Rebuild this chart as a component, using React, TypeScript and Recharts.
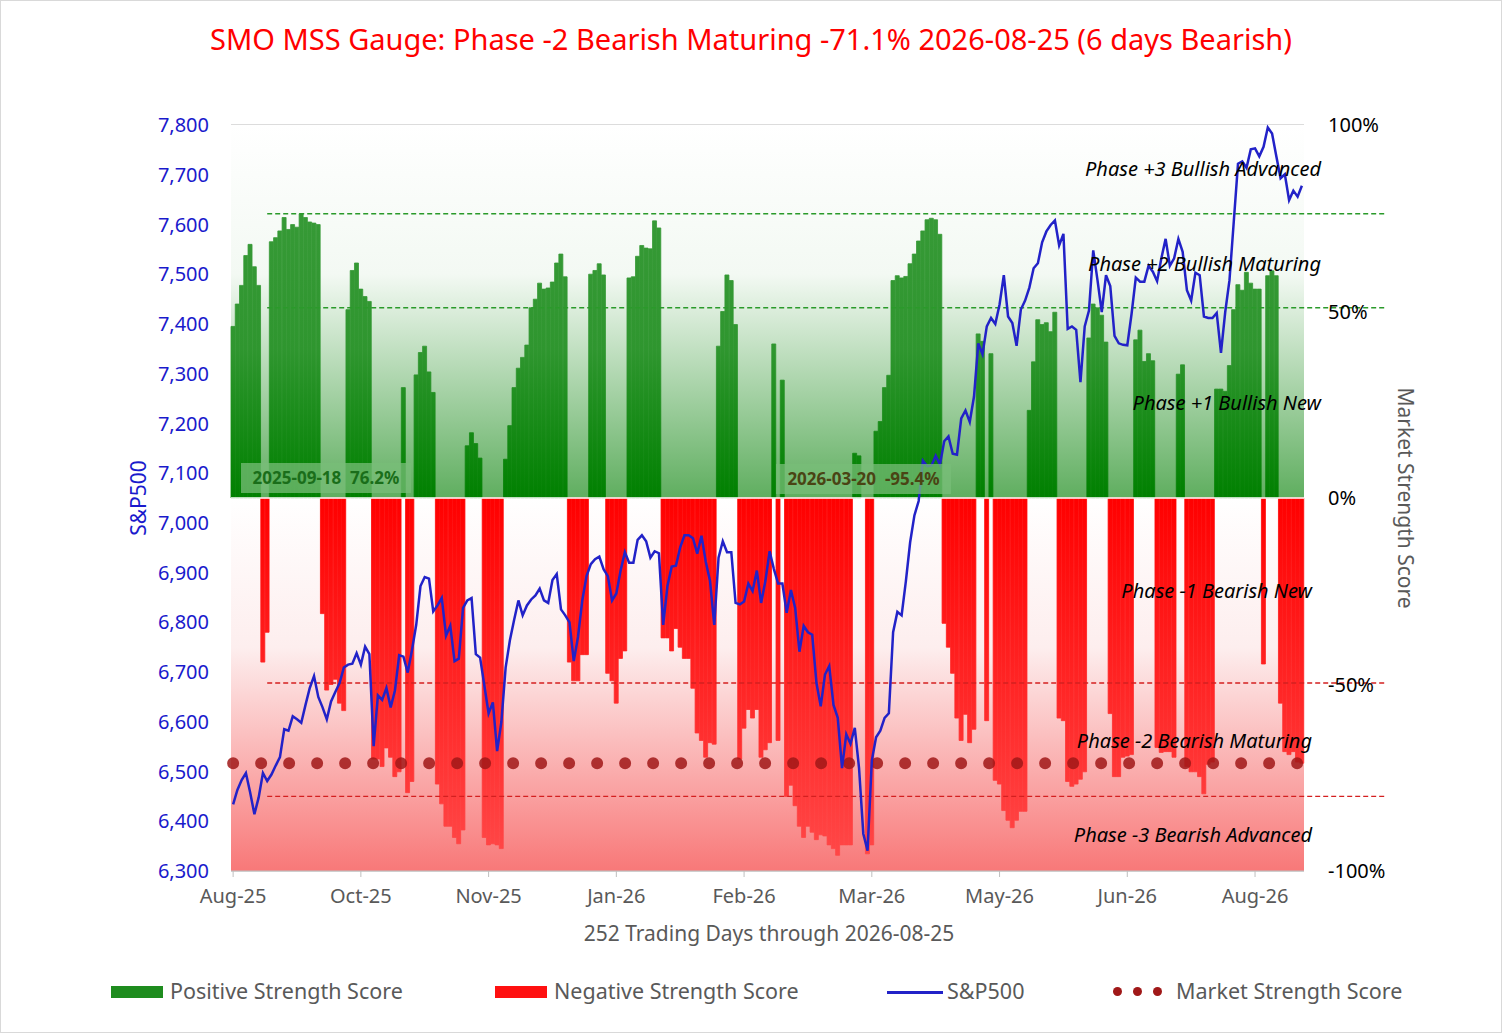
import { ComposedChart, Bar, Line, XAxis, YAxis, CartesianGrid, ReferenceLine, ReferenceArea } from 'recharts'

// market strength score (%) per trading day
const score = [
  46, 52, 57, 65, 68, 62, 57, -44, -36, 68.7, 69.8, 71.6, 75.2, 72, 73.3, 72.6, 76.2, 75.2, 74, 73.7,
  73.3, -31, -51.5, -50, -48.6, -55, -57, 50.5, 61, 63, 56, 54, 52.7, -70, -70, -72, -67, -69.5, -74.7, -73.4,
  29.6, -79, -76, 33, 39, 40.7, 33.8, 28.3, -76.7, -82, -88, -88, -91, -92.7, -89, 14, 17.5, 14.6, 10.7, -91,
  -93, -92.7, -93, -94, 10.4, 19.4, 29.6, 34.8, 37.7, 41, 51, 53.3, 57.6, 56, 56.3, 57.9, 63, 65.4, 59.3, -44,
  -49, -49, -42, -42, 60, 61, 62.8, 59.8, -47, -49, -55, -43, -41, 59, 59.3, 64.8, 67.7, 67, 66.8, 74.3,
  72.4, -37.5, -37.5, -41, -35, -40, -43, -43, -51, -63, -65, -69.5, -65.6, -66, 40.7, 50, 59.8, 58.3, 46.5, -70,
  -61.7, -56.7, -59, -56.7, -69.5, -67.5, -65.6, 41.3, -65, 31.6, -80, -77, -82.5, -88, -91, -88, -89.6, -91.6, -90.3, -90.6,
  -93, -94, -95.8, -93, -93, -93, 12, 11.3, 0, -95.4, -93, 17.9, 20.5, 29.6, 32.9, 58.3, 59.6, 59, 59.4, 62.8,
  65.4, 68.9, 71.6, 74.6, 75, 74.6, 70.7, -33.6, -40, -47, -59, -65, -58, -65.6, -62, 44, 42, -59.7, 38.7, -75.7,
  -76.7, -83.8, -86.4, -88.4, -86.4, -84, -84, 23.5, 36.5, 47.8, 46.5, 47, 44.6, 49.8, -59, -59.7, -76, -77.3, -76.7, -75.4,
  -73.4, 42.9, 52, 51, 49, 41.8, -57.8, -74.7, -74.7, -69.5, -69.2, -68.8, 42.4, 45, 36.6, 38.7, 36.8, -66.9, -68.2, -68,
  -68, -69.5, 33.2, 35.7, -72, -73.4, -73.4, -74.7, -79.3, -71.4, -70.8, 29.2, 29.2, 28.6, 35.5, 50.5, 57.2, 55.7, 60.5, 57.6,
  56, 56, -44.5, 59.6, 60.9, 59.6, -55, -68, -68.8, -68, -70.8, -71.1,
]

// S&P500 close per trading day
const spx = [
  6434, 6463, 6483, 6497, 6458, 6414, 6448, 6497, 6481, 6494, 6512, 6529, 6585, 6582, 6611, 6605, 6598, 6634, 6668, 6692,
  6650, 6629, 6605, 6641, 6660, 6678, 6709, 6715, 6717, 6738, 6715, 6751, 6736, 6551, 6653, 6644, 6668, 6629, 6663, 6734,
  6731, 6699, 6744, 6795, 6873, 6891, 6888, 6822, 6834, 6849, 6773, 6793, 6722, 6727, 6829, 6844, 6849, 6736, 6729, 6673,
  6617, 6639, 6541, 6600, 6709, 6764, 6805, 6844, 6814, 6834, 6846, 6854, 6868, 6844, 6839, 6885, 6897, 6826, 6814, 6800,
  6722, 6771, 6844, 6893, 6917, 6927, 6932, 6907, 6893, 6844, 6858, 6904, 6941, 6920, 6920, 6966, 6975, 6963, 6930, 6943,
  6939, 6795, 6873, 6912, 6914, 6951, 6975, 6975, 6969, 6938, 6974, 6922, 6883, 6795, 6930, 6963, 6941, 6941, 6839, 6836,
  6842, 6878, 6863, 6904, 6839, 6883, 6943, 6907, 6878, 6878, 6819, 6865, 6829, 6741, 6793, 6780, 6775, 6678, 6631, 6695,
  6712, 6634, 6608, 6507, 6575, 6556, 6588, 6507, 6375, 6341, 6522, 6569, 6582, 6608, 6617, 6780, 6821, 6814, 6883, 6961,
  7015, 7044, 7125, 7114, 7115, 7135, 7117, 7164, 7174, 7139, 7137, 7210, 7226, 7203, 7254, 7361, 7339, 7395, 7412, 7400,
  7439, 7498, 7415, 7402, 7356, 7429, 7447, 7473, 7512, 7522, 7564, 7586, 7599, 7608, 7558, 7581, 7390, 7395, 7388, 7283,
  7395, 7427, 7548, 7488, 7424, 7498, 7476, 7376, 7361, 7358, 7357, 7420, 7493, 7485, 7485, 7517, 7505, 7486, 7532, 7571,
  7517, 7532, 7571, 7545, 7468, 7447, 7503, 7498, 7415, 7412, 7412, 7422, 7342, 7424, 7488, 7605, 7722, 7727, 7714, 7751,
  7753, 7737, 7756, 7795, 7783, 7737, 7693, 7701, 7649, 7668, 7656, 7678,
]

const currentScore = -71.1
const monthTicks = ['Aug-25', 'Oct-25', 'Nov-25', 'Jan-26', 'Feb-26', 'Mar-26', 'May-26', 'Jun-26', 'Aug-26']
const spTicks = [6300, 6400, 6500, 6600, 6700, 6800, 6900, 7000, 7100, 7200, 7300, 7400, 7500, 7600, 7700, 7800]
const scoreTicks = [-100, -50, 0, 50, 100]
const greenLevels = [76.2, 51]
const redLevels = [-49.6, -80]
const phases = [
  { text: 'Phase +3 Bullish Advanced', top: 154, right: 180 },
  { text: 'Phase +2 Bullish Maturing', top: 249, right: 180 },
  { text: 'Phase +1 Bullish New', top: 388, right: 180 },
  { text: 'Phase -1 Bearish New', top: 576, right: 189 },
  { text: 'Phase -2 Bearish Maturing', top: 726, right: 189 },
  { text: 'Phase -3 Bearish Advanced', top: 820, right: 189 },
]

const data = score.map((v, i) => ({
  i,
  pos: v > 0 ? v : null,
  neg: v < 0 ? v : null,
  sp: spx[i],
  mss: currentScore,
}))

const font = '"Noto Sans", sans-serif'

const extLine = (color: string) => (p: any) => (
  <line x1={p.x1} y1={p.y1} x2={p.x2 + 85} y2={p.y2} stroke={color} strokeWidth={1.3} strokeDasharray="5 3" />
)

export default function App() {
  return (
    <div style={{ position: 'relative', width: 1502, height: 1033, fontFamily: font, boxSizing: 'border-box', border: '1px solid #d9d9d9', background: '#fff' }}>
      <style>{'body{margin:0}'}</style>
      <div style={{ position: 'absolute', top: 18, width: '100%', textAlign: 'center', color: '#ff0000', fontSize: 29 }}>
        SMO MSS Gauge: Phase -2 Bearish Maturing -71.1% 2026-08-25 (6 days Bearish)
      </div>
      <ComposedChart width={1500} height={1031} data={data} margin={{ top: 124, left: 139, right: 115, bottom: 121 }} barCategoryGap={0} barGap={0}>
        <defs>
          <linearGradient id="bgG" x1="0" y1="0" x2="0" y2="1">
            <stop offset="0%" stopColor="#ffffff" />
            <stop offset="40%" stopColor="#f3f9f3" />
            <stop offset="100%" stopColor="#5fae5f" />
          </linearGradient>
          <linearGradient id="bgR" x1="0" y1="0" x2="0" y2="1">
            <stop offset="0%" stopColor="#ffffff" />
            <stop offset="40%" stopColor="#fdeeee" />
            <stop offset="100%" stopColor="#f87878" />
          </linearGradient>
          <linearGradient id="barG" gradientUnits="userSpaceOnUse" x1="0" y1="125" x2="0" y2="497">
            <stop offset="0%" stopColor="#3b9c3b" />
            <stop offset="60%" stopColor="#2f962f" />
            <stop offset="100%" stopColor="#008000" />
          </linearGradient>
          <linearGradient id="barR" gradientUnits="userSpaceOnUse" x1="0" y1="497" x2="0" y2="870">
            <stop offset="0%" stopColor="#ff0000" />
            <stop offset="100%" stopColor="#ff4a4a" />
          </linearGradient>
        </defs>
        <ReferenceArea yAxisId="score" y1={0} y2={100} fill="url(#bgG)" fillOpacity={1} stroke="none" />
        <ReferenceArea yAxisId="score" y1={-100} y2={0} fill="url(#bgR)" fillOpacity={1} stroke="none" />
        <CartesianGrid yAxisId="sp" vertical={false} stroke="#d0d0d0" strokeWidth={1.5} />
        <XAxis
          dataKey="i"
          ticks={monthTicks.map((_, k) => k * 30)}
          tickFormatter={(v: number) => monthTicks[v / 30]}
          interval={0}
          tick={{ fill: '#595959', fontSize: 20 }}
          tickMargin={12}
          stroke="#bfbfbf"
          height={40}
        />
        <YAxis
          yAxisId="sp"
          domain={[6300, 7800]}
          ticks={spTicks}
          tickFormatter={(v: number) => v.toLocaleString('en-US')}
          tick={{ fill: '#1a1acc', fontSize: 20 }}
          axisLine={false}
          tickLine={false}
          tickMargin={16}
          width={91}
        />
        <YAxis
          yAxisId="score"
          orientation="right"
          domain={[-100, 100]}
          ticks={scoreTicks}
          tickFormatter={(v: number) => `${v}%`}
          tick={{ fill: '#000', fontSize: 20 }}
          axisLine={false}
          tickLine={false}
          tickMargin={18}
          width={82}
        />
        <Bar yAxisId="score" dataKey="pos" stackId="s" fill="url(#barG)" stroke="url(#barG)" strokeWidth={0.8} isAnimationActive={false} />
        <Bar yAxisId="score" dataKey="neg" stackId="s" fill="url(#barR)" stroke="url(#barR)" strokeWidth={0.8} isAnimationActive={false} />
        {greenLevels.map((y) => (
          <ReferenceLine key={y} yAxisId="score" segment={[{ x: 8, y }, { x: 251, y }]} shape={extLine('#2a9a2a')} ifOverflow="visible" />
        ))}
        {redLevels.map((y) => (
          <ReferenceLine key={y} yAxisId="score" segment={[{ x: 8, y }, { x: 251, y }]} shape={extLine('#d42020')} ifOverflow="visible" />
        ))}
        <ReferenceLine yAxisId="score" y={0} stroke="#ffffff" strokeWidth={1.5} />
        <Line yAxisId="score" dataKey="mss" stroke="#a01818" strokeOpacity={0.85} strokeWidth={12} strokeLinecap="round" strokeDasharray="0 28" dot={false} isAnimationActive={false} />
        <Line yAxisId="sp" dataKey="sp" stroke="#2222c8" strokeWidth={2.5} dot={false} isAnimationActive={false} />
      </ComposedChart>

      {/* annotations */}
      <div style={{ position: 'absolute', left: 240, top: 462, width: 170, height: 30, background: 'rgba(120,190,120,0.75)', color: '#1a6e1a', fontWeight: 700, fontSize: 17, lineHeight: '30px', textAlign: 'center' }}>
        2025-09-18&nbsp;&nbsp;76.2%
      </div>
      <div style={{ position: 'absolute', left: 775, top: 463, width: 175, height: 30, background: 'rgba(120,190,120,0.75)', color: '#4a4414', fontWeight: 700, fontSize: 17, lineHeight: '30px', textAlign: 'center' }}>
        2026-03-20&nbsp;&nbsp;-95.4%
      </div>
      {phases.map((p) => (
        <div key={p.text} style={{ position: 'absolute', top: p.top, right: p.right, fontStyle: 'italic', fontSize: 20, color: '#000' }}>
          {p.text}
        </div>
      ))}

      {/* axis titles */}
      <div style={{ position: 'absolute', left: 137, top: 497, transform: 'translate(-50%,-50%) rotate(-90deg)', color: '#1a1acc', fontSize: 21, whiteSpace: 'nowrap' }}>S&amp;P500</div>
      <div style={{ position: 'absolute', left: 1405, top: 497, transform: 'translate(-50%,-50%) rotate(90deg)', color: '#595959', fontSize: 21, whiteSpace: 'nowrap' }}>Market Strength Score</div>
      <div style={{ position: 'absolute', left: 768, top: 918, transform: 'translateX(-50%)', color: '#595959', fontSize: 21, whiteSpace: 'nowrap' }}>252 Trading Days through 2026-08-25</div>

      {/* legend */}
      <div style={{ position: 'absolute', top: 975, left: 0, width: '100%', height: 30, color: '#595959', fontSize: 21.5 }}>
        <div style={{ position: 'absolute', left: 110, top: 10, width: 52, height: 12, background: '#1e8c1e' }} />
        <div style={{ position: 'absolute', left: 169, top: 0 }}>Positive Strength Score</div>
        <div style={{ position: 'absolute', left: 494, top: 10, width: 52, height: 12, background: '#ff1010' }} />
        <div style={{ position: 'absolute', left: 553, top: 0 }}>Negative Strength Score</div>
        <div style={{ position: 'absolute', left: 886, top: 15, width: 56, height: 2.5, background: '#2222c8' }} />
        <div style={{ position: 'absolute', left: 946, top: 0 }}>S&amp;P500</div>
        {[1116, 1136, 1156].map((x) => (
          <div key={x} style={{ position: 'absolute', left: x - 4, top: 11, width: 9, height: 9, borderRadius: '50%', background: '#a01818' }} />
        ))}
        <div style={{ position: 'absolute', left: 1175, top: 0 }}>Market Strength Score</div>
      </div>
    </div>
  )
}
